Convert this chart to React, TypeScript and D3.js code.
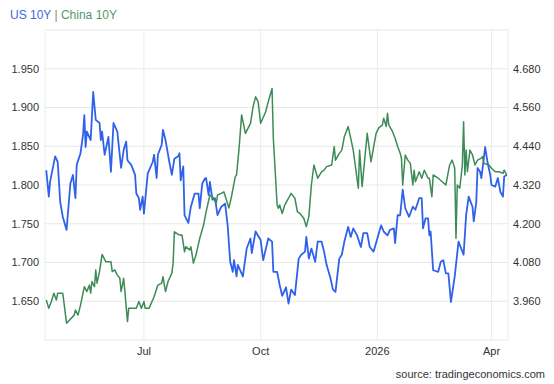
import React from "react";
import * as d3 from "d3";

const W = 554;
const H = 384;

const us10y: [string, number][] = [
  ["2025-04-15", 1.819], ["2025-04-17", 1.785], ["2025-04-18", 1.804], ["2025-04-22", 1.837],
  ["2025-04-24", 1.830], ["2025-04-26", 1.778], ["2025-04-28", 1.759], ["2025-05-01", 1.742],
  ["2025-05-04", 1.802], ["2025-05-06", 1.813], ["2025-05-08", 1.783], ["2025-05-09", 1.826],
  ["2025-05-12", 1.841], ["2025-05-14", 1.865], ["2025-05-15", 1.890], ["2025-05-16", 1.849],
  ["2025-05-17", 1.869], ["2025-05-20", 1.858], ["2025-05-22", 1.920], ["2025-05-24", 1.884],
  ["2025-05-27", 1.880], ["2025-05-28", 1.858], ["2025-05-29", 1.869], ["2025-05-31", 1.839],
  ["2025-06-03", 1.862], ["2025-06-05", 1.817], ["2025-06-07", 1.880], ["2025-06-10", 1.869],
  ["2025-06-13", 1.822], ["2025-06-15", 1.845], ["2025-06-17", 1.856], ["2025-06-18", 1.832],
  ["2025-06-21", 1.826], ["2025-06-24", 1.813], ["2025-06-25", 1.789], ["2025-06-27", 1.783],
  ["2025-06-28", 1.768], ["2025-06-30", 1.785], ["2025-07-01", 1.763], ["2025-07-04", 1.815],
  ["2025-07-08", 1.830], ["2025-07-09", 1.839], ["2025-07-11", 1.809], ["2025-07-12", 1.839],
  ["2025-07-15", 1.852], ["2025-07-16", 1.871], ["2025-07-18", 1.858], ["2025-07-21", 1.830],
  ["2025-07-23", 1.813], ["2025-07-25", 1.834], ["2025-07-28", 1.837], ["2025-07-29", 1.841],
  ["2025-07-30", 1.806], ["2025-08-01", 1.824], ["2025-08-02", 1.761], ["2025-08-05", 1.751],
  ["2025-08-07", 1.772], ["2025-08-10", 1.789], ["2025-08-13", 1.789], ["2025-08-14", 1.770],
  ["2025-08-16", 1.802], ["2025-08-18", 1.808], ["2025-08-19", 1.809], ["2025-08-21", 1.787],
  ["2025-08-22", 1.804], ["2025-08-24", 1.781], ["2025-08-26", 1.783], ["2025-08-28", 1.761],
  ["2025-08-31", 1.772], ["2025-09-03", 1.776], ["2025-09-05", 1.748], ["2025-09-07", 1.701],
  ["2025-09-09", 1.688], ["2025-09-10", 1.703], ["2025-09-12", 1.682], ["2025-09-13", 1.697],
  ["2025-09-17", 1.682], ["2025-09-20", 1.718], ["2025-09-23", 1.731], ["2025-09-24", 1.712],
  ["2025-09-27", 1.740], ["2025-10-01", 1.729], ["2025-10-03", 1.703], ["2025-10-07", 1.731],
  ["2025-10-10", 1.727], ["2025-10-11", 1.688], ["2025-10-14", 1.688], ["2025-10-16", 1.671],
  ["2025-10-18", 1.657], ["2025-10-21", 1.668], ["2025-10-23", 1.647], ["2025-10-25", 1.665],
  ["2025-10-28", 1.658], ["2025-10-31", 1.705], ["2025-11-02", 1.710], ["2025-11-05", 1.714],
  ["2025-11-06", 1.733], ["2025-11-08", 1.705], ["2025-11-10", 1.718], ["2025-11-13", 1.701],
  ["2025-11-15", 1.727], ["2025-11-18", 1.727], ["2025-11-20", 1.714], ["2025-11-22", 1.697],
  ["2025-11-25", 1.680], ["2025-11-27", 1.665], ["2025-11-29", 1.662], ["2025-12-02", 1.705],
  ["2025-12-04", 1.710], ["2025-12-06", 1.727], ["2025-12-09", 1.746], ["2025-12-11", 1.733],
  ["2025-12-13", 1.744], ["2025-12-16", 1.735], ["2025-12-19", 1.720], ["2025-12-21", 1.738],
  ["2025-12-24", 1.738], ["2025-12-26", 1.720], ["2025-12-29", 1.714], ["2026-01-01", 1.731],
  ["2026-01-04", 1.748], ["2026-01-06", 1.740], ["2026-01-09", 1.735], ["2026-01-11", 1.742],
  ["2026-01-14", 1.744], ["2026-01-15", 1.725], ["2026-01-17", 1.761], ["2026-01-19", 1.761],
  ["2026-01-21", 1.794], ["2026-01-23", 1.770], ["2026-01-26", 1.759], ["2026-01-29", 1.772],
  ["2026-01-31", 1.768], ["2026-02-03", 1.783], ["2026-02-05", 1.783], ["2026-02-06", 1.744],
  ["2026-02-08", 1.757], ["2026-02-10", 1.757], ["2026-02-11", 1.735], ["2026-02-12", 1.740],
  ["2026-02-14", 1.690], ["2026-02-18", 1.688], ["2026-02-20", 1.701], ["2026-02-22", 1.703],
  ["2026-02-24", 1.686], ["2026-02-26", 1.686], ["2026-02-28", 1.649], ["2026-03-03", 1.682],
  ["2026-03-06", 1.727], ["2026-03-10", 1.710], ["2026-03-12", 1.761], ["2026-03-14", 1.785],
  ["2026-03-17", 1.772], ["2026-03-18", 1.753], ["2026-03-20", 1.778], ["2026-03-21", 1.822],
  ["2026-03-23", 1.817], ["2026-03-24", 1.809], ["2026-03-25", 1.822], ["2026-03-27", 1.849],
  ["2026-03-29", 1.828], ["2026-03-31", 1.813], ["2026-04-01", 1.800], ["2026-04-04", 1.798],
  ["2026-04-06", 1.809], ["2026-04-08", 1.791], ["2026-04-10", 1.785], ["2026-04-11", 1.811],
  ["2026-04-13", 1.813],
];

const china10y: [string, number][] = [
  ["2025-04-15", 3.964], ["2025-04-17", 3.938], ["2025-04-19", 3.959], ["2025-04-21", 3.985],
  ["2025-04-23", 3.964], ["2025-04-24", 3.985], ["2025-04-28", 3.985], ["2025-05-01", 3.892],
  ["2025-05-07", 3.917], ["2025-05-08", 3.933], ["2025-05-10", 3.917], ["2025-05-12", 3.948],
  ["2025-05-15", 4.005], ["2025-05-17", 3.990], ["2025-05-19", 4.010], ["2025-05-20", 3.985],
  ["2025-05-21", 4.021], ["2025-05-23", 4.005], ["2025-05-24", 4.057], ["2025-05-25", 4.016],
  ["2025-05-27", 4.052], ["2025-05-29", 4.105], ["2025-06-01", 4.082], ["2025-06-05", 4.082],
  ["2025-06-06", 4.052], ["2025-06-08", 4.057], ["2025-06-10", 4.041], ["2025-06-12", 4.031],
  ["2025-06-13", 3.990], ["2025-06-15", 4.031], ["2025-06-16", 3.990], ["2025-06-18", 3.897],
  ["2025-06-19", 3.938], ["2025-06-25", 3.938], ["2025-06-27", 3.959], ["2025-06-29", 3.938],
  ["2025-07-01", 3.959], ["2025-07-02", 3.938], ["2025-07-05", 3.938], ["2025-07-09", 3.974],
  ["2025-07-12", 4.010], ["2025-07-15", 4.016], ["2025-07-16", 4.036], ["2025-07-18", 3.990],
  ["2025-07-20", 4.021], ["2025-07-23", 4.047], ["2025-07-24", 4.078], ["2025-07-25", 4.175],
  ["2025-07-29", 4.165], ["2025-07-31", 4.165], ["2025-08-02", 4.113], ["2025-08-03", 4.129],
  ["2025-08-06", 4.119], ["2025-08-07", 4.129], ["2025-08-09", 4.078], ["2025-08-11", 4.103],
  ["2025-08-14", 4.155], ["2025-08-17", 4.196], ["2025-08-19", 4.237], ["2025-08-22", 4.289],
  ["2025-08-24", 4.284], ["2025-08-27", 4.263], ["2025-08-28", 4.289], ["2025-08-31", 4.294],
  ["2025-09-02", 4.299], ["2025-09-04", 4.274], ["2025-09-06", 4.249], ["2025-09-08", 4.284],
  ["2025-09-11", 4.346], ["2025-09-12", 4.351], ["2025-09-14", 4.434], ["2025-09-16", 4.537],
  ["2025-09-19", 4.480], ["2025-09-23", 4.511], ["2025-09-25", 4.562], ["2025-09-27", 4.593],
  ["2025-09-29", 4.578], ["2025-10-01", 4.511], ["2025-10-05", 4.547], ["2025-10-07", 4.578],
  ["2025-10-10", 4.619], ["2025-10-11", 4.465], ["2025-10-14", 4.258], ["2025-10-15", 4.248],
  ["2025-10-16", 4.258], ["2025-10-18", 4.232], ["2025-10-20", 4.258], ["2025-10-23", 4.279],
  ["2025-10-25", 4.294], ["2025-10-28", 4.279], ["2025-10-30", 4.237], ["2025-11-01", 4.232],
  ["2025-11-04", 4.217], ["2025-11-06", 4.191], ["2025-11-08", 4.222], ["2025-11-10", 4.320],
  ["2025-11-12", 4.382], ["2025-11-15", 4.341], ["2025-11-18", 4.361], ["2025-11-20", 4.366],
  ["2025-11-22", 4.377], ["2025-11-26", 4.382], ["2025-11-28", 4.439], ["2025-11-29", 4.397],
  ["2025-12-02", 4.418], ["2025-12-04", 4.428], ["2025-12-06", 4.470], ["2025-12-09", 4.501],
  ["2025-12-11", 4.465], ["2025-12-13", 4.428], ["2025-12-17", 4.310], ["2025-12-18", 4.428],
  ["2025-12-20", 4.315], ["2025-12-24", 4.480], ["2025-12-27", 4.392], ["2025-12-31", 4.480],
  ["2026-01-02", 4.496], ["2026-01-05", 4.506], ["2026-01-06", 4.527], ["2026-01-08", 4.501],
  ["2026-01-09", 4.542], ["2026-01-10", 4.506], ["2026-01-13", 4.485], ["2026-01-15", 4.465],
  ["2026-01-17", 4.439], ["2026-01-19", 4.418], ["2026-01-20", 4.403], ["2026-01-21", 4.320],
  ["2026-01-23", 4.413], ["2026-01-25", 4.397], ["2026-01-27", 4.387], ["2026-01-29", 4.320],
  ["2026-01-30", 4.366], ["2026-01-31", 4.330], ["2026-02-03", 4.361], ["2026-02-05", 4.341],
  ["2026-02-07", 4.366], ["2026-02-10", 4.341], ["2026-02-11", 4.341], ["2026-02-13", 4.284],
  ["2026-02-14", 4.351], ["2026-02-18", 4.341], ["2026-02-24", 4.320], ["2026-02-27", 4.382],
  ["2026-03-01", 4.397], ["2026-03-03", 4.372], ["2026-03-04", 4.155], ["2026-03-05", 4.320],
  ["2026-03-07", 4.310], ["2026-03-09", 4.382], ["2026-03-10", 4.516], ["2026-03-11", 4.351],
  ["2026-03-12", 4.428], ["2026-03-13", 4.361], ["2026-03-15", 4.428], ["2026-03-17", 4.413],
  ["2026-03-19", 4.382], ["2026-03-21", 4.397], ["2026-03-24", 4.403], ["2026-03-25", 4.408],
  ["2026-03-26", 4.387], ["2026-03-30", 4.382], ["2026-04-01", 4.372], ["2026-04-04", 4.361],
  ["2026-04-07", 4.361], ["2026-04-10", 4.356], ["2026-04-11", 4.366], ["2026-04-13", 4.351],
];

const leftTicks = [1.65, 1.7, 1.75, 1.8, 1.85, 1.9, 1.95];
const rightTicks = [3.96, 4.08, 4.2, 4.32, 4.44, 4.56, 4.68];
const gridTicks = [1.6, 1.65, 1.7, 1.75, 1.8, 1.85, 1.9, 1.95, 2.0];
const dateDomain = ["2025-04-14", "2026-04-14"];
const xTickDates = ["2025-07-01", "2025-10-01", "2026-01-01", "2026-04-01"];
const xTickLabels = ["Jul", "Oct", "2026", "Apr"];

const parse = d3.timeParse("%Y-%m-%d");
const FONT = "Arial, 'Liberation Sans', Helvetica, sans-serif";
const BLUE = "#2f62e8";
const GREEN = "#3d8b56";

export default function App() {
  const left = 45, right = 508, top = 30, bottom = 340;
  const x = d3.scaleTime().domain(dateDomain.map((d) => parse(d) as Date)).range([left, right]);
  const yL = d3.scaleLinear().domain([1.6, 2.0]).range([bottom, top]);
  const yR = d3.scaleLinear().domain([3.84, 4.8]).range([bottom, top]);

  const usLine = d3.line<[string, number]>()
    .x((d) => x(parse(d[0]) as Date))
    .y((d) => yL(d[1]));
  const cnLine = d3.line<[string, number]>()
    .x((d) => x(parse(d[0]) as Date))
    .y((d) => yR(d[1]));

  const vLines = [left, ...xTickDates.map((d) => x(parse(d) as Date)), right];

  return (
    <svg width={W} height={H} style={{ position: "absolute", left: 0, top: 0, background: "#fff" }} fontFamily={FONT}>
      <rect x={0} y={0} width={W} height={H} fill="#fff" />
      {gridTicks.map((t) => (
        <line key={"h" + t} x1={left} x2={right} y1={yL(t)} y2={yL(t)} stroke="#e8e8e8" strokeWidth={1} />
      ))}
      {vLines.map((v, i) => (
        <line key={"v" + i} x1={v} x2={v} y1={top} y2={bottom} stroke="#ececec" strokeWidth={1} />
      ))}
      {leftTicks.map((t) => (
        <text key={"l" + t} x={39} y={yL(t)} dy="0.35em" textAnchor="end" fontSize={11} fill="#333">
          {t.toFixed(3)}
        </text>
      ))}
      {rightTicks.map((t) => (
        <text key={"r" + t} x={513} y={yR(t)} dy="0.35em" textAnchor="start" fontSize={11} fill="#333">
          {t.toFixed(3)}
        </text>
      ))}
      {xTickDates.map((d, i) => (
        <text key={"x" + d} x={x(parse(d) as Date)} y={355} textAnchor="middle" fontSize={11} fill="#333">
          {xTickLabels[i]}
        </text>
      ))}
      <path d={usLine(us10y) || ""} fill="none" stroke={BLUE} strokeWidth={1.8} strokeLinejoin="round" />
      <path d={cnLine(china10y) || ""} fill="none" stroke={GREEN} strokeWidth={1.5} strokeLinejoin="round" />
      <text x={10} y={19} fontSize={12}>
        <tspan fill="#4169d9">US 10Y</tspan>
        <tspan fill="#888"> | </tspan>
        <tspan fill="#4f9a66">China 10Y</tspan>
      </text>
      <text x={545} y={378} textAnchor="end" fontSize={11} fill="#333">
        source: tradingeconomics.com
      </text>
    </svg>
  );
}
